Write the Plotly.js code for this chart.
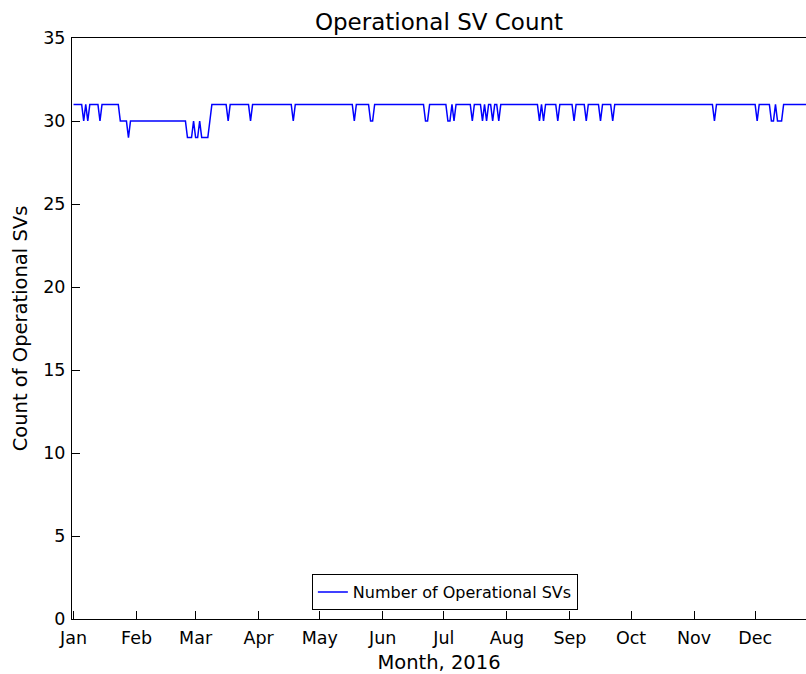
<!DOCTYPE html>
<html>
<head>
<meta charset="utf-8">
<script src="https://cdn.plot.ly/plotly-3.0.1.min.js"></script>
<style>html,body{margin:0;padding:0;background:#fff;}#chart{width:806px;height:674px;}</style>
</head>
<body>
<div id="chart"></div>
<script>
// Daily count of operational SVs, 2016
var jan = [31,31,31,31,31,30,31,30,31,31, 31,31,31,30,31,31,31,31,31,31, 31,31,31,30,30,30,30,29,30,30, 30];
var feb = [30,30,30,30,30,30,30,30,30,30, 30,30,30,30,30,30,30,30,30,30, 30,30,30,30,30,29,29,29,30];
var mar = [29,29,30,29,29,29,29,30,31,31, 31,31,31,31,31,31,30,31,31,31, 31,31,31,31,31,31,31,30,31,31, 31];
var apr = [31,31,31,31,31,31,31,31,31,31, 31,31,31,31,31,31,31,30,31,31, 31,31,31,31,31,31,31,31,31,31];
var may = [31,31,31,31,31,31,31,31,31,31, 31,31,31,31,31,31,31,30,31,31, 31,31,31,31,31,30,30,31,31,31, 31];
var jun = [31,31,31,31,31,31,31,31,31,31, 31,31,31,31,31,31,31,31,31,31, 31,30,30,31,31,31,31,31,31,31];
var jul = [31,31,30,30,31,30,31,31,31,31, 31,31,31,31,30,31,31,31,31,30, 31,30,31,31,30,31,31,30,31,31, 31];
var aug = [31,31,31,31,31,31,31,31,31,31, 31,31,31,31,31,31,30,31,30,31, 31,31,31,31,31,30,31,31,31,31, 31];
var sep = [31,31,30,31,31,31,31,31,30,31, 31,31,31,31,31,30,31,31,31,31, 31,30,31,31,31,31,31,31,31,31];
var oct = [31,31,31,31,31,31,31,31,31,31, 31,31,31,31,31,31,31,31,31,31, 31,31,31,31,31,31,31,31,31,31, 31];
var nov = [31,31,31,31,31,31,31,31,31,31, 30,31,31,31,31,31,31,31,31,31, 31,31,31,31,31,31,31,31,31,31];
var dec = [31,30,31,31,31,31,31,31,30,30, 31,30,30,30,31,31,31,31,31,31, 31,31,31,31,31,31,31,31,31,31, 31];

var months = [jan, feb, mar, apr, may, jun, jul, aug, sep, oct, nov, dec];
var seriesName = 'Number of Operational SVs';
var chartTitle = 'Operational SV Count';
var xTitle = 'Month, 2016';
var yTitle = 'Count of Operational SVs';

var x = [], y = [];
months.forEach(function(arr, m) {
  arr.forEach(function(v, i) {
    var mm = String(m + 1).padStart(2, '0');
    var dd = String(i + 1).padStart(2, '0');
    x.push('2016-' + mm + '-' + dd);
    y.push(v);
  });
});

var ff = 'DejaVu Sans, sans-serif';

var trace = {
  x: x, y: y, type: 'scatter', mode: 'lines', name: seriesName,
  line: {color: '#0000ff', width: 1.5},
  showlegend: true
};

var layout = {
  width: 806, height: 674,
  margin: {l: 72, r: 0, t: 38, b: 55},
  paper_bgcolor: '#fff', plot_bgcolor: '#fff',
  font: {family: ff, color: '#000'},
  title: {text: chartTitle, font: {family: ff, size: 23, color: '#000'},
          x: 0.5, xref: 'paper', xanchor: 'center', y: 1 - 22/674, yref: 'container', yanchor: 'middle'},
  xaxis: {
    type: 'date', range: ['2015-12-31 06:00', '2016-12-26 00:00'],
    tick0: '2016-01-01', dtick: 'M1', tickformat: '%b',
    ticks: 'inside', ticklen: 8, tickwidth: 1, tickcolor: '#000',
    showline: true, linecolor: '#000', linewidth: 1, mirror: true,
    showgrid: false, zeroline: false, ticklabelstandoff: 3,
    tickfont: {family: ff, size: 17.5, color: '#000'},
    title: {text: xTitle, font: {family: ff, size: 19.5, color: '#000'}, standoff: 10}
  },
  yaxis: {
    range: [0, 35], dtick: 5, tick0: 0,
    ticks: 'inside', ticklen: 8, tickwidth: 1, tickcolor: '#000',
    showline: true, linecolor: '#000', linewidth: 1,
    showgrid: false, zeroline: false, ticklabelstandoff: 2,
    tickfont: {family: ff, size: 17.5, color: '#000'},
    title: {text: yTitle, font: {family: ff, size: 19.5, color: '#000'}, standoff: 10}
  },
  showlegend: true,
  legend: {
    x: 0.508, xanchor: 'center', y: 0.0155, yanchor: 'bottom',
    bgcolor: '#fff', bordercolor: '#000', borderwidth: 1,
    font: {family: ff, size: 16, color: '#000'},
    itemwidth: 30
  }
};

Plotly.newPlot('chart', [trace], layout, {displayModeBar: false, staticPlot: true});
</script>
</body>
</html>
